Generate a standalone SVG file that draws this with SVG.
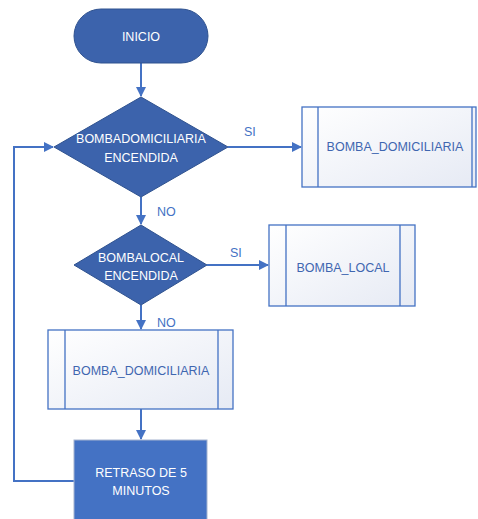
<svg xmlns="http://www.w3.org/2000/svg" width="478" height="519" viewBox="0 0 478 519">
<style>
.dk{fill:#3C63AC;stroke:#2F528F;stroke-width:1}
.sub{fill:url(#g);stroke:#4472C4;stroke-width:1.3}
.in{stroke:#4472C4;stroke-width:1.3;fill:none}
.proc{fill:#4472C4;stroke:#A5B4CF;stroke-width:1}
.w{font-family:"Liberation Sans",Arial,sans-serif;font-size:12.5px;fill:#fff;text-anchor:middle}
.b{font-family:"Liberation Sans",Arial,sans-serif;font-size:12.5px;fill:#3F66B0;text-anchor:middle}
.lbl{font-family:"Liberation Sans",Arial,sans-serif;font-size:12.5px;fill:#4472C4}
.c{stroke:#4472C4;stroke-width:2;fill:none}
</style>
<defs>
<linearGradient id="g" x1="0" y1="0" x2="1" y2="1">
<stop offset="0" stop-color="#FFFFFF"/>
<stop offset="1" stop-color="#E6EAF4"/>
</linearGradient>
<marker id="a" markerWidth="10" markerHeight="10" refX="9" refY="5" orient="auto" markerUnits="userSpaceOnUse" viewBox="0 0 10 10">
<path d="M0,0 L10,5 L0,10 z" fill="#4472C4"/>
</marker>
</defs>
<g id="connectors">
<path class="c" d="M141,63 V96" marker-end="url(#a)"/>
<path class="c" d="M228,147 H301" marker-end="url(#a)"/>
<path class="c" d="M141,197 V224" marker-end="url(#a)"/>
<path class="c" d="M207,265 H268" marker-end="url(#a)"/>
<path class="c" d="M141,305 V329" marker-end="url(#a)"/>
<path class="c" d="M141,409 V439" marker-end="url(#a)"/>
<path class="c" d="M74,481 H14 V147 H53" marker-end="url(#a)"/>
<text class="lbl" x="244" y="136">SI</text>
<text class="lbl" x="157" y="216">NO</text>
<text class="lbl" x="230" y="257">SI</text>
<text class="lbl" x="157" y="327">NO</text>
</g>
<g id="inicio">
<rect class="dk" x="74" y="9" width="134" height="54" rx="27"/>
<text class="w" x="141" y="41">INICIO</text>
</g>
<g id="decision1">
<polygon class="dk" points="141,97 228,147 141,197 54,147"/>
<text class="w" x="141" y="143">BOMBADOMICILIARIA</text>
<text class="w" x="141" y="162">ENCENDIDA</text>
</g>
<g id="sub1">
<rect class="sub" x="302" y="107" width="174" height="80"/>
<path class="in" d="M318,107 V187 M472,107 V187"/>
<text class="b" x="395" y="151">BOMBA_DOMICILIARIA</text>
</g>
<g id="decision2">
<polygon class="dk" points="141,225 207,265 141,305 74,265"/>
<text class="w" x="141" y="262">BOMBALOCAL</text>
<text class="w" x="141" y="280">ENCENDIDA</text>
</g>
<g id="sub2">
<rect class="sub" x="269" y="225" width="146" height="81"/>
<path class="in" d="M286,225 V306 M400,225 V306"/>
<text class="b" x="343" y="272">BOMBA_LOCAL</text>
</g>
<g id="sub3">
<rect class="sub" x="48" y="330" width="185" height="79"/>
<path class="in" d="M65,330 V409 M218,330 V409"/>
<text class="b" x="141" y="375">BOMBA_DOMICILIARIA</text>
</g>
<g id="retraso">
<rect class="proc" x="74" y="440" width="133" height="85"/>
<text class="w" x="141" y="477">RETRASO DE 5</text>
<text class="w" x="141" y="495">MINUTOS</text>
</g>
</svg>
